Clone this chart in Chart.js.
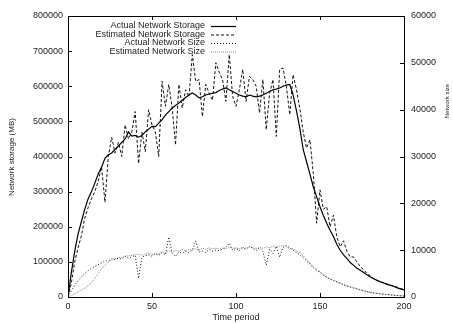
<!DOCTYPE html>
<html>
<head>
<meta charset="utf-8">
<script src="https://cdn.jsdelivr.net/npm/chart.js@4.4.1/dist/chart.umd.min.js"></script>
<style>
  html, body { margin: 0; padding: 0; background: #fff; }
  #chart { display: block; }
</style>
</head>
<body>
<canvas id="chart" width="453" height="323"></canvas>
<script>
// Time periods (x values)
const timePeriods = [0,2,4,6,8,10,12,14,16,18,20,22,24,26,28,30,32,34,36,38,40,42,44,46,48,50,52,54,56,58,
    60,62,64,66,68,70,72,74,76,78,80,82,84,86,88,90,92,94,96,98,100,102,104,106,108,110,112,114,116,118,
    120,122,124,126,128,130,132,134,136,138,140,142,144,146,148,150,152,154,156,158,160,162,164,166,168,170,
    172,174,176,178,180,182,184,186,188,190,192,194,196,198,200];

// Network storage (MB), left axis
const actualStorage = [0,70000,130000,180000,215000,250000,280000,300000,325000,350000,
    370000,395000,405000,410000,420000,430000,440000,450000,470000,458000,
    460000,455000,460000,470000,478000,486000,485000,495000,505000,518000,
    528000,538000,545000,552000,560000,568000,575000,581000,575000,567000,
    570000,575000,578000,580000,582000,588000,592000,595000,590000,585000,
    580000,575000,572000,570000,575000,572000,570000,572000,575000,580000,
    585000,590000,592000,595000,600000,603000,605000,575000,530000,480000,
    420000,385000,350000,314000,285000,257000,232000,210000,190000,172000,
    150000,133000,120000,110000,98000,90000,82000,76000,70000,63000,
    57000,52000,47000,43000,40000,36000,33000,30000,26000,23000,
    20000];

const estimatedStorage = [0,40000,100000,140000,175000,225000,255000,280000,300000,330000,
    370000,270000,400000,455000,410000,440000,400000,490000,450000,470000,
    528000,380000,470000,414000,533000,490000,470000,400000,614000,543000,
    605000,538000,433000,605000,538000,590000,570000,690000,614000,619000,
    514000,605000,580000,560000,667000,640000,619000,557000,690000,571000,
    543000,590000,648000,557000,628000,619000,600000,524000,619000,476000,
    580000,619000,457000,648000,652000,600000,519000,633000,590000,538000,
    470000,424000,448000,352000,210000,305000,250000,257000,200000,233000,
    171000,143000,160000,130000,114000,114000,100000,86000,78000,67000,
    60000,52000,48000,43000,40000,37000,34000,31000,28000,24000,
    21000];

// Network size, right axis
const actualSize = [0,1300,2500,3500,4300,5000,5600,6100,6500,6900,
    7300,7700,7700,8200,8000,8300,8100,8700,8300,8600,
    8900,4000,8500,8800,9000,8700,9200,8900,9500,9000,
    12800,9300,8700,9600,9300,9800,9500,10000,12000,9600,
    9800,9500,10200,9800,10000,9900,10200,10600,11500,10000,
    10400,9900,10500,10100,10800,10400,9800,10500,9700,6800,
    10200,9300,10800,8500,10600,11000,10500,10000,9500,9000,
    8400,7700,7000,6300,5600,5400,4600,4200,3800,3500,
    3200,2900,2600,2350,2100,1900,1700,1500,1300,1100,
    950,850,750,650,600,520,450,380,320,260,
    200];

const estimatedSize = [0,300,700,1100,1500,1900,2400,3100,4000,5000,
    6000,6800,7400,7900,8200,8400,8500,8700,8800,8900,
    9000,9100,8900,9200,9300,9100,9400,9200,9600,9500,
    9800,9600,9900,9800,10100,9900,10200,10000,10300,10100,
    10400,10200,10500,10300,10400,10200,10500,10300,10600,10400,
    10500,10300,10600,10400,10700,10500,10300,10600,10400,10700,
    10500,10800,10600,10900,11000,10700,10300,10300,9900,9400,
    8800,8000,7300,6500,5900,5300,4800,4300,3900,3600,
    3300,3000,2700,2400,2200,2000,1800,1600,1400,1200,
    1050,900,800,700,620,540,460,400,340,280,
    220];

const seriesLabels = ['Actual Network Storage', 'Estimated Network Storage', 'Actual Network Size', 'Estimated Network Size'];

const FONT = '"Liberation Sans", Arial, Helvetica, sans-serif';
const TEXT = '#222';

function toPoints(values) {
    return timePeriods.map((t, i) => ({ x: t, y: values[i] }));
}

// Box, inward ticks, legend and axis titles (gnuplot look)
const gnuplotDecor = {
    id: 'gnuplotDecor',
    afterDraw(chart) {
        const ctx = chart.ctx;
        const a = chart.chartArea;
        const { x, y, y2 } = chart.scales;
        const tick = 4;

        ctx.save();
        ctx.strokeStyle = '#000';
        ctx.lineWidth = 1;
        ctx.setLineDash([]);
        ctx.strokeRect(a.left + 0.5, a.top + 0.5, a.right - a.left, a.bottom - a.top);

        ctx.beginPath();
        x.ticks.forEach(t => {
            const px = Math.round(x.getPixelForValue(t.value)) + 0.5;
            ctx.moveTo(px, a.bottom); ctx.lineTo(px, a.bottom - tick);
            ctx.moveTo(px, a.top); ctx.lineTo(px, a.top + tick);
        });
        y.ticks.forEach(t => {
            const py = Math.round(y.getPixelForValue(t.value)) + 0.5;
            ctx.moveTo(a.left, py); ctx.lineTo(a.left + tick, py);
        });
        y2.ticks.forEach(t => {
            const py = Math.round(y2.getPixelForValue(t.value)) + 0.5;
            ctx.moveTo(a.right, py); ctx.lineTo(a.right - tick, py);
        });
        ctx.stroke();

        // legend
        const rows = [26, 34.5, 43, 51.5];
        ctx.font = '9px ' + FONT;
        ctx.textAlign = 'right';
        ctx.textBaseline = 'middle';
        chart.data.datasets.forEach((ds, i) => {
            ctx.fillStyle = TEXT;
            ctx.fillText(ds.label, 205, rows[i]);
            ctx.beginPath();
            ctx.strokeStyle = ds.borderColor;
            ctx.lineWidth = ds.borderWidth;
            ctx.setLineDash(ds.borderDash || []);
            ctx.moveTo(211, rows[i] + 0.5);
            ctx.lineTo(236, rows[i] + 0.5);
            ctx.stroke();
        });
        ctx.setLineDash([]);

        // axis titles
        ctx.fillStyle = TEXT;
        ctx.textAlign = 'center';
        ctx.font = '9px ' + FONT;
        ctx.fillText('Time period', 236, 318);

        ctx.save();
        ctx.translate(12, 157);
        ctx.rotate(-Math.PI / 2);
        ctx.font = '8px ' + FONT;
        ctx.fillText('Network storage (MB)', 0, 0);
        ctx.restore();

        ctx.save();
        ctx.translate(447, 101);
        ctx.rotate(-Math.PI / 2);
        ctx.font = '6px ' + FONT;
        ctx.fillText('Network size', 0, 0);
        ctx.restore();

        ctx.restore();
    }
};

const ctx = document.getElementById('chart').getContext('2d');
new Chart(ctx, {
    type: 'line',
    data: {
        datasets: [
            {
                label: seriesLabels[0],
                data: toPoints(actualStorage),
                yAxisID: 'y',
                borderColor: '#000',
                borderWidth: 1.2
            },
            {
                label: seriesLabels[1],
                data: toPoints(estimatedStorage),
                yAxisID: 'y',
                borderColor: '#111',
                borderWidth: 1,
                borderDash: [3, 2]
            },
            {
                label: seriesLabels[2],
                data: toPoints(actualSize),
                yAxisID: 'y2',
                borderColor: '#111',
                borderWidth: 1,
                borderDash: [1, 2]
            },
            {
                label: seriesLabels[3],
                data: toPoints(estimatedSize),
                yAxisID: 'y2',
                borderColor: '#888',
                borderWidth: 1,
                borderDash: [1, 1]
            }
        ]
    },
    options: {
        responsive: false,
        animation: false,
        devicePixelRatio: 1,
        layout: { padding: { top: 16, left: 0, right: 0, bottom: 0 } },
        elements: { point: { radius: 0 }, line: { tension: 0 } },
        plugins: { legend: { display: false }, tooltip: { enabled: false } },
        scales: {
            x: {
                type: 'linear',
                min: 0,
                max: 200,
                grid: { display: false, drawTicks: false },
                border: { display: false },
                ticks: { stepSize: 50, padding: 4, color: TEXT, font: { family: FONT, size: 9 } },
                afterFit: s => { s.height = 26; }
            },
            y: {
                position: 'left',
                min: 0,
                max: 800000,
                grid: { display: false, drawTicks: false },
                border: { display: false },
                ticks: {
                    stepSize: 100000, padding: 5, color: TEXT, font: { family: FONT, size: 9 },
                    callback: v => String(v)
                },
                afterFit: s => { s.width = 68; }
            },
            y2: {
                position: 'right',
                min: 0,
                max: 60000,
                grid: { display: false, drawTicks: false },
                border: { display: false },
                ticks: {
                    stepSize: 10000, padding: 7, color: TEXT, font: { family: FONT, size: 9 },
                    callback: v => String(v)
                },
                afterFit: s => { s.width = 49; }
            }
        }
    },
    plugins: [gnuplotDecor]
});
</script>
</body>
</html>
